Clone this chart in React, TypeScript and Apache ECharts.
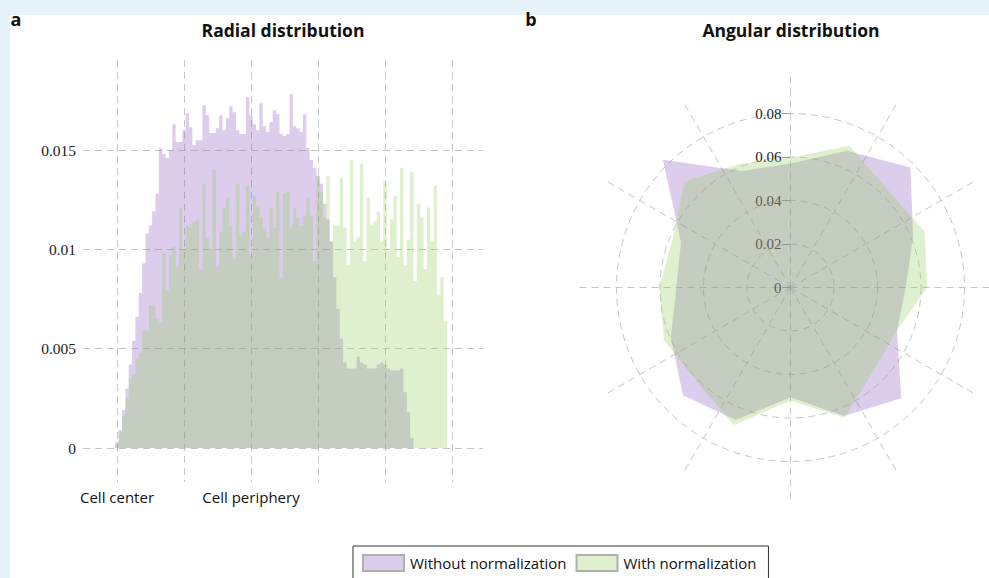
import React, { useEffect, useRef } from 'react';
import * as echarts from 'echarts';

// ---------- data ----------
// histogram bin positions (bin index along the normalized radius)
const BIN_POSITIONS = [
  0, 1, 2, 3, 4, 5, 6, 7, 8, 9, 10, 11, 12, 13, 14, 15, 16, 17, 18, 19,
  20, 21, 22, 23, 24, 25, 26, 27, 28, 29, 30, 31, 32, 33, 34, 35, 36, 37, 38, 39,
  40, 41, 42, 43, 44, 45, 46, 47, 48, 49, 50, 51, 52, 53, 54, 55, 56, 57, 58, 59,
  60, 61, 62, 63, 64, 65, 66, 67, 68, 69, 70, 71, 72, 73, 74, 75, 76, 77, 78, 79,
  80, 81, 82, 83, 84, 85, 86, 87, 88, 89, 90, 91, 92, 93, 94, 95, 96, 97, 98,
];

const RADIAL_WITHOUT = [
  0.0003, 0.0009, 0.0019, 0.003, 0.0042, 0.0054, 0.0066, 0.0078, 0.0093, 0.0108,
  0.0112, 0.0119, 0.0128, 0.0151, 0.0148, 0.0146, 0.015, 0.0163, 0.0154, 0.0154,
  0.016, 0.01685, 0.01615, 0.01524, 0.01549, 0.01549, 0.01725, 0.01675, 0.01585, 0.01585,
  0.0161, 0.01675, 0.016, 0.0166, 0.0172, 0.0169, 0.016, 0.0158, 0.0158, 0.01766,
  0.01675, 0.0163, 0.016, 0.01735, 0.0162, 0.0159, 0.0164, 0.017, 0.0168, 0.0158,
  0.0157, 0.0158, 0.0178, 0.0162, 0.0161, 0.0159, 0.0168, 0.0151, 0.0145, 0.0141,
  0.0137, 0.0133, 0.0123, 0.0115, 0.0104, 0.0086, 0.007, 0.0055, 0.0043, 0.004,
  0.004, 0.004, 0.0046, 0.0043, 0.0042, 0.004, 0.004, 0.004, 0.0042, 0.0043,
  0.0042, 0.004, 0.0039, 0.0039, 0.0039, 0.004, 0.0028, 0.0018, 0.0005,
];

const RADIAL_WITH = [
  0.0002, 0.0008, 0.0016, 0.0025, 0.0035, 0.0037, 0.0045, 0.0048, 0.0059, 0.0059,
  0.0072, 0.0071, 0.0065, 0.0063, 0.0098, 0.0079, 0.0097, 0.0101, 0.0091, 0.0121,
  0.01, 0.0112, 0.0111, 0.0114, 0.0115, 0.009, 0.0133, 0.0106, 0.01, 0.014,
  0.0091, 0.0109, 0.0121, 0.0126, 0.0112, 0.0095, 0.0133, 0.0107, 0.0109, 0.0132,
  0.0097, 0.0127, 0.0122, 0.0116, 0.0111, 0.0106, 0.0121, 0.0111, 0.0129, 0.0086,
  0.0128, 0.0129, 0.0111, 0.0121, 0.0116, 0.0112, 0.0117, 0.0126, 0.0117, 0.0094,
  0.0137, 0.0129, 0.0116, 0.0137, 0.0104, 0.0112, 0.0112, 0.0136, 0.0111, 0.0092,
  0.0145, 0.0104, 0.0106, 0.0143, 0.0094, 0.0126, 0.0112, 0.0114, 0.0119, 0.0104,
  0.0134, 0.0099, 0.0115, 0.0127, 0.0096, 0.0141, 0.0092, 0.0105, 0.0139, 0.0084,
  0.0123, 0.0116, 0.009, 0.0121, 0.0104, 0.0132, 0.0077, 0.0086, 0.0064,
];

const RADIAL_Y_TICKS = [0, 0.005, 0.01, 0.015];
const RADIAL_X_LABEL_VALUES = [0, 40];
const RADIAL_X_LABEL_TEXTS = ['Cell center', 'Cell periphery'];

// angular bins (degrees, counter-clockwise from east)
const ANGLES = [0, 22.5, 45, 67.5, 90, 112.5, 135, 157.5, 180, 202.5, 225, 247.5, 270, 292.5, 315, 337.5];
const ANGULAR_WITHOUT = [
  0.053, 0.061, 0.078, 0.068, 0.057, 0.058, 0.083, 0.0545,
  0.0525, 0.0595, 0.07, 0.066, 0.0505, 0.064, 0.072, 0.053,
];
const ANGULAR_WITH = [
  0.0628, 0.0668, 0.0634, 0.0705, 0.0596, 0.0615, 0.069, 0.0586,
  0.0603, 0.063, 0.061, 0.0685, 0.052, 0.0648, 0.054, 0.0527,
];
const ANGULAR_R_TICKS = [0, 0.02, 0.04, 0.06, 0.08];

const SERIES_NAMES = ['Without normalization', 'With normalization'];

// ---------- style ----------
const PURPLE = 'rgba(140,90,195,0.3)';
const GREEN = 'rgba(145,205,90,0.3)';
const GRID_LINE = { color: '#c6c6c6', width: 1, type: [7, 5] as number[] };
const SANS = '"Open Sans", "Noto Sans", sans-serif';
const SERIF = '"Liberation Serif", "DejaVu Serif", serif';
const BIN_HALF_WIDTH = 0.5;

export default function App() {
  const ref = useRef<HTMLDivElement>(null);

  useEffect(() => {
    if (!ref.current) return;
    const chart = echarts.init(ref.current, undefined, { renderer: 'svg' });

    const toAxisAngle = (a: number) => (a + 270) % 360; // axis starts at north, counter-clockwise
    const polyWithout = ANGLES.map((a, k) => [ANGULAR_WITHOUT[k], toAxisAngle(a)]);
    const polyWith = ANGLES.map((a, k) => [ANGULAR_WITH[k], toAxisAngle(a)]);

    const polygonSeries = (name: string, data: number[][], fill: string, z: number) => ({
      type: 'custom',
      name,
      coordinateSystem: 'polar',
      polarIndex: 1,
      data,
      silent: true,
      z,
      itemStyle: { color: fill },
      renderItem: (params: any, api: any) => {
        if (params.dataIndex !== 0) return null;
        const pts = data.map((d) => api.coord(d));
        return { type: 'polygon', shape: { points: pts }, style: { fill, stroke: 'none' } };
      },
    });

    // histogram as one step outline per series (no seams between bins)
    const histogramSeries = (name: string, values: number[], fill: string, z: number) => {
      const data = values.map((v, i) => [BIN_POSITIONS[i], v]);
      return {
        type: 'custom',
        name,
        coordinateSystem: 'cartesian2d',
        xAxisIndex: 0,
        yAxisIndex: 0,
        data,
        silent: true,
        clip: false,
        z,
        itemStyle: { color: fill },
        renderItem: (params: any, api: any) => {
          if (params.dataIndex !== 0) return null;
          const pts: number[][] = [];
          data.forEach(([x, v]) => {
            pts.push(api.coord([x - BIN_HALF_WIDTH, v]));
            pts.push(api.coord([x + BIN_HALF_WIDTH, v]));
          });
          pts.push(api.coord([data[data.length - 1][0] + BIN_HALF_WIDTH, 0]));
          pts.push(api.coord([data[0][0] - BIN_HALF_WIDTH, 0]));
          return { type: 'polygon', shape: { points: pts }, style: { fill, stroke: 'none' } };
        },
      };
    };

    const option: any = {
      animation: false,
      backgroundColor: 'transparent',
      graphic: [
        { type: 'text', x: 16, y: 19, style: { text: 'a', font: `bold 18px ${SANS}`, fill: '#111', align: 'center', verticalAlign: 'middle' } },
        { type: 'text', x: 531, y: 19, style: { text: 'b', font: `bold 18px ${SANS}`, fill: '#111', align: 'center', verticalAlign: 'middle' } },
        { type: 'text', x: 283, y: 30, style: { text: 'Radial distribution', font: `bold 17.5px ${SANS}`, fill: '#111', align: 'center', verticalAlign: 'middle' } },
        { type: 'text', x: 791, y: 30, style: { text: 'Angular distribution', font: `bold 17.5px ${SANS}`, fill: '#111', align: 'center', verticalAlign: 'middle' } },
      ],
      legend: {
        left: 353,
        top: 546,
        orient: 'horizontal',
        icon: 'rect',
        itemWidth: 41,
        itemHeight: 16,
        itemGap: 9,
        padding: [8, 12, 8, 9],
        borderColor: '#333',
        borderWidth: 1,
        backgroundColor: '#fff',
        selectedMode: false,
        itemStyle: { borderColor: '#b0b0b0', borderWidth: 2 },
        textStyle: { fontFamily: SANS, fontSize: 15, color: '#111', padding: [0, 0, 0, 1] },
        data: SERIES_NAMES,
      },
      grid: [
        { left: 117, top: 150, width: 335, height: 298 },
        { left: 117, top: 60, width: 335, height: 422 },
        { left: 83, top: 150, width: 400, height: 298 },
      ],
      xAxis: [
        { gridIndex: 0, type: 'value', min: 0, max: 100, show: false },
        {
          gridIndex: 1,
          type: 'value',
          min: 0,
          max: 100,
          interval: 20,
          axisLine: { show: false },
          axisTick: { show: false },
          splitLine: { show: true, lineStyle: GRID_LINE },
          axisLabel: {
            margin: 7,
            fontFamily: SANS,
            fontSize: 15,
            color: '#111',
            formatter: (v: number) => {
              const k = RADIAL_X_LABEL_VALUES.indexOf(v);
              return k >= 0 ? RADIAL_X_LABEL_TEXTS[k] : '';
            },
          },
        },
        { gridIndex: 2, type: 'value', min: 0, max: 1, show: false },
      ],
      yAxis: [
        { gridIndex: 0, type: 'value', min: 0, max: RADIAL_Y_TICKS[RADIAL_Y_TICKS.length - 1], show: false },
        { gridIndex: 1, type: 'value', min: 0, max: 1, show: false },
        {
          gridIndex: 2,
          type: 'value',
          min: RADIAL_Y_TICKS[0],
          max: RADIAL_Y_TICKS[RADIAL_Y_TICKS.length - 1],
          interval: RADIAL_Y_TICKS[1] - RADIAL_Y_TICKS[0],
          axisLine: { show: false },
          axisTick: { show: false },
          splitLine: { show: true, lineStyle: GRID_LINE },
          axisLabel: { margin: 7, fontFamily: SERIF, fontSize: 15.5, color: '#222' },
        },
      ],
      polar: [
        { center: [790.5, 287.5], radius: 211 },
        { center: [790.5, 287.5], radius: 174 },
      ],
      angleAxis: [
        {
          polarIndex: 0,
          type: 'value',
          min: 0,
          max: 360,
          interval: 30,
          startAngle: 90,
          axisLine: { show: false },
          axisTick: { show: false },
          axisLabel: { show: false },
          splitLine: { show: true, lineStyle: GRID_LINE },
        },
        {
          polarIndex: 1,
          type: 'value',
          min: 0,
          max: 360,
          startAngle: 90,
          clockwise: false,
          axisLine: { show: false },
          axisTick: { show: false },
          axisLabel: { show: false },
          splitLine: { show: false },
        },
      ],
      radiusAxis: [
        {
          polarIndex: 0,
          type: 'value',
          min: 0,
          max: 1,
          axisLine: { show: false },
          axisTick: { show: false },
          axisLabel: { show: false },
          splitLine: { show: false },
        },
        {
          polarIndex: 1,
          type: 'value',
          min: ANGULAR_R_TICKS[0],
          max: ANGULAR_R_TICKS[ANGULAR_R_TICKS.length - 1],
          interval: ANGULAR_R_TICKS[1] - ANGULAR_R_TICKS[0],
          axisLine: { show: false },
          axisTick: { show: true, length: 8, lineStyle: { color: '#999' } },
          axisLabel: { margin: 9, fontFamily: SERIF, fontSize: 15, color: '#222' },
          splitLine: { show: true, lineStyle: GRID_LINE },
        },
      ],
      series: [
        histogramSeries(SERIES_NAMES[0], RADIAL_WITHOUT, PURPLE, 2),
        histogramSeries(SERIES_NAMES[1], RADIAL_WITH, GREEN, 2),
        polygonSeries('angular-without', polyWithout, PURPLE, 3),
        polygonSeries('angular-with', polyWith, GREEN, 4),
      ],
    };

    chart.setOption(option);
    return () => chart.dispose();
  }, []);

  return (
    <div style={{ position: 'fixed', left: 0, top: 0, width: 989, height: 578, background: '#e7f3fb', overflow: 'hidden' }}>
      <div style={{ position: 'absolute', left: 10, top: 15, width: 979, height: 563, background: '#ffffff' }} />
      <div ref={ref} style={{ position: 'absolute', left: 0, top: 0, width: 989, height: 578 }} />
    </div>
  );
}
